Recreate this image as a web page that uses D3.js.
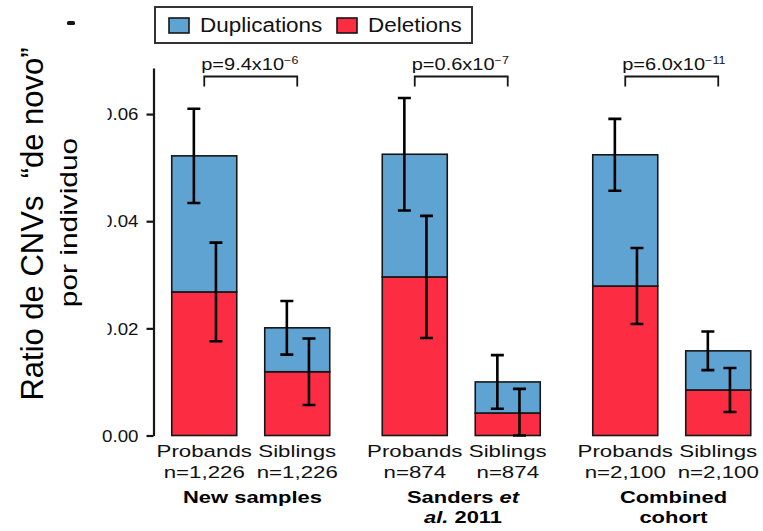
<!DOCTYPE html>
<html>
<head>
<meta charset="utf-8">
<script src="https://cdn.jsdelivr.net/npm/d3@7"></script>
<style>
  html, body { margin: 0; padding: 0; background: #fff; }
  svg { display: block; font-family: "Liberation Sans", Arial, Helvetica, sans-serif; }
</style>
</head>
<body>
<svg id="chart" width="763" height="531"></svg>
<script>
// ---- data ----
const groups = ["New samples", "Sanders et al. 2011", "Combined cohort"];
const subjects = ["Probands", "Siblings"];
const sampleSizes = [["n=1,226", "n=1,226"], ["n=874", "n=874"], ["n=2,100", "n=2,100"]];
// rate of de novo CNVs per individual, by group and subject
const deletions    = [[0.0268, 0.0119], [0.0296, 0.0042], [0.0279, 0.0085]];
const duplications = [[0.0254, 0.0082], [0.0229, 0.0058], [0.0245, 0.0073]];
// error bar half-widths (duplication bar drawn at the stacked total)
const dupErr = [[0.0088, 0.0050], [0.0105, 0.0050], [0.0067, 0.0036]];
const delErr = [[0.0092, 0.0062], [0.0114, 0.0045], [0.0071, 0.0041]];
// p-values as mantissa x 10^exponent
const pMantissa = ["9.4", "0.6", "6.0"];
const pExponent = ["\u22126", "\u22127", "\u221211"];
const yTicks = [0, 0.02, 0.04, 0.06];
const seriesNames = ["Duplications", "Deletions"];
// group labels, split into lines of [text, italic] runs
const groupLabelLines = [
  [[["New samples", false]]],
  [[["Sanders ", false], ["et", true]], [["al.", true], [" 2011", false]]],
  [[["Combined", false]], [["cohort", false]]]
];

const colors = { Duplications: "#5fa3d3", Deletions: "#fc2c43" };
const ink = "#161616";

const svg = d3.select("#chart");

// ---- scales ----
const x0 = d3.scaleBand().domain(groups).range([145.75, 777.25]);
const x1 = d3.scaleBand().domain(subjects).range([26, 184]).paddingInner(0.301).paddingOuter(0);
const y = d3.scaleLinear().domain([0, 0.0686]).range([435.5, 68]);

const rows = [];
groups.forEach((g, gi) => subjects.forEach((s, si) => {
  const del = deletions[gi][si], dup = duplications[gi][si];
  rows.push({
    g, s, gi, si, del, dup, total: del + dup,
    dupErr: dupErr[gi][si], delErr: delErr[gi][si],
    x: x0(g) + x1(s), n: sampleSizes[gi][si]
  });
}));
const bw = x1.bandwidth();

function placeText(sel, x, yy, sx) {
  return sel.attr("transform", `translate(${x},${yy}) scale(${sx},1)`);
}

// ---- y axis ----
const axis = d3.axisLeft(y).tickValues(yTicks).tickFormat(d3.format(".2f"))
  .tickSize(7).tickSizeOuter(0);
const gAxis = svg.append("g").attr("transform", "translate(153.5,0)").call(axis);
gAxis.select(".domain").attr("stroke", ink).attr("stroke-width", 2.2);
gAxis.selectAll(".tick line").attr("stroke", ink).attr("stroke-width", 2.2);
gAxis.selectAll(".tick text")
  .attr("x", 0).attr("dy", "0.36em")
  .attr("text-anchor", "end")
  .attr("fill", "#111")
  .style("font-size", "16px")
  .attr("transform", "translate(-15,0) scale(1.17,1)");

// title box overlapping the left of the upper tick labels
svg.append("rect").attr("x", 0).attr("y", 0).attr("width", 107.5).attr("height", 420).attr("fill", "#fff");
svg.append("rect").attr("x", 67).attr("y", 21).attr("width", 8).attr("height", 4).attr("rx", 1.5).attr("fill", ink);

// y title
svg.append("text")
  .attr("transform", "translate(43,224) rotate(-90)")
  .attr("text-anchor", "middle")
  .style("font-size", "31px").attr("fill", "#000")
  .text("Ratio de CNVs\u00a0 \u201cde novo\u201d");
svg.append("text")
  .attr("transform", "translate(77,222.5) rotate(-90) scale(1.3,1)")
  .attr("text-anchor", "middle")
  .style("font-size", "23px").attr("fill", "#000")
  .text("por individuo");

// ---- stacked bars ----
const gBars = svg.append("g");
gBars.selectAll("rect.del").data(rows).join("rect").attr("class", "del")
  .attr("x", d => d.x).attr("width", bw)
  .attr("y", d => y(d.del)).attr("height", d => y(0) - y(d.del))
  .attr("fill", colors.Deletions).attr("stroke", ink).attr("stroke-width", 1.6);
gBars.selectAll("rect.dup").data(rows).join("rect").attr("class", "dup")
  .attr("x", d => d.x).attr("width", bw)
  .attr("y", d => y(d.total)).attr("height", d => y(d.del) - y(d.total))
  .attr("fill", colors.Duplications).attr("stroke", ink).attr("stroke-width", 1.6);

// ---- error bars ----
const cap = 6.5;
function errorBar(sel, cx, lo, hi) {
  const p = d3.path();
  p.moveTo(cx, y(hi)); p.lineTo(cx, y(lo));
  p.moveTo(cx - cap, y(hi)); p.lineTo(cx + cap, y(hi));
  p.moveTo(cx - cap, y(lo)); p.lineTo(cx + cap, y(lo));
  sel.append("path").attr("d", p.toString()).attr("fill", "none")
    .attr("stroke", "#000").attr("stroke-width", 2.6);
}
const gErr = svg.append("g");
rows.forEach(d => {
  errorBar(gErr, d.x + bw * 0.34, Math.max(0, d.total - d.dupErr), d.total + d.dupErr);
  errorBar(gErr, d.x + bw * 0.68, Math.max(0, d.del - d.delErr), d.del + d.delErr);
});

// ---- significance brackets ----
groups.forEach((g, gi) => {
  const a = x0(g) + x1(subjects[0]) + bw / 2;
  const b = x0(g) + x1(subjects[1]) + bw / 2;
  const top = 76.5, leg = 86.5;
  svg.append("path")
    .attr("d", `M${a},${leg}V${top}H${b}V${leg}`)
    .attr("fill", "none").attr("stroke", ink).attr("stroke-width", 1.8);
  const t = svg.append("text").attr("fill", "#111").style("font-size", "16px");
  placeText(t, a - 3, 70, 1.25);
  t.append("tspan").text(`p=${pMantissa[gi]}x10`);
  t.append("tspan").attr("dy", -6).style("font-size", "10px").text(pExponent[gi]);
});

// ---- category labels ----
rows.forEach(d => {
  const cx = d.x + bw / 2;
  placeText(svg.append("text").attr("text-anchor", "middle").attr("fill", "#111")
    .style("font-size", "17px").text(d.s), cx, 457, 1.31);
  placeText(svg.append("text").attr("text-anchor", "middle").attr("fill", "#111")
    .style("font-size", "17px").text(d.n), cx, 478, 1.31);
});
groups.forEach((g, gi) => {
  const cx = x0(g) + x0.bandwidth() / 2 + 1.5;
  groupLabelLines[gi].forEach((line, li) => {
    const t = svg.append("text").attr("text-anchor", "middle").attr("fill", "#000")
      .style("font-size", "16.5px").style("font-weight", "bold");
    placeText(t, cx, 503 + li * 20, 1.33);
    line.forEach(([txt, it]) => t.append("tspan").style("font-style", it ? "italic" : "normal").text(txt));
  });
});

// ---- legend ----
const lg = svg.append("g");
lg.append("rect").attr("x", 155).attr("y", 7).attr("width", 317).attr("height", 36)
  .attr("fill", "#fff").attr("stroke", "#333").attr("stroke-width", 2);
const legendX = [169, 337];
seriesNames.forEach((name, i) => {
  lg.append("rect").attr("x", legendX[i]).attr("y", 18).attr("width", 20).attr("height", 15)
    .attr("fill", colors[name]).attr("stroke", ink).attr("stroke-width", 1.6);
  placeText(lg.append("text").attr("fill", "#111").style("font-size", "21px").text(name),
    legendX[i] + 31, 32, 1.07);
});
</script>
</body>
</html>
